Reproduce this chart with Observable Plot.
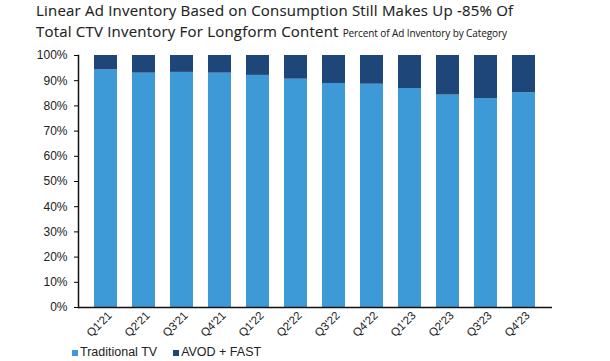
<!DOCTYPE html>
<html>
<head>
<meta charset="utf-8">
<script src="https://cdn.jsdelivr.net/npm/d3@7"></script>
<script src="https://cdn.jsdelivr.net/npm/@observablehq/plot@0.6"></script>
<style>
  body { margin: 0; background: #fff; width: 610px; height: 361px; overflow: hidden; }
  #title { height: 45px; box-sizing: border-box; padding: 0 0 0 36px; font-family: "Open Sans", sans-serif; color: #222; font-size: 15px; line-height: 20.5px; letter-spacing: 0.2px; -webkit-text-stroke: 0.12px #222; }
  #title .sub { font-size: 10px; letter-spacing: -0.1px; -webkit-text-stroke: 0.05px #222; }
  #legend { font-family: Arial, "Liberation Sans", sans-serif; font-size: 12.5px; color: #222; padding-left: 72px; margin-top: 0px; display: flex; gap: 16px; align-items: center; }
  #legend span.sw { display: inline-block; width: 6px; height: 6px; margin-right: 2px; vertical-align: middle; }
</style>
</head>
<body>
<div id="title">Linear Ad Inventory Based on Consumption Still Makes Up -85% Of<br>Total CTV Inventory For Longform Content <span class="sub">Percent of Ad Inventory by Category</span></div>
<div id="chart"></div>
<div id="legend"></div>
<script>
const quarters = ["Q1'21","Q2'21","Q3'21","Q4'21","Q1'22","Q2'22","Q3'22","Q4'22","Q1'23","Q2'23","Q3'23","Q4'23"];
const traditionalTV = [94.3, 93.0, 93.3, 93.0, 92.1, 90.6, 88.9, 88.6, 86.9, 84.3, 82.9, 85.2];
const avodFast = traditionalTV.map(v => +(100 - v).toFixed(1));
const seriesNames = ["Traditional TV", "AVOD + FAST"];
const seriesColors = ["#3d9ad6", "#1f4679"];
const yTicks = [0,10,20,30,40,50,60,70,80,90,100];

const data = [];
quarters.forEach((q, i) => {
  data.push({quarter: q, series: seriesNames[0], value: traditionalTV[i] / 100});
  data.push({quarter: q, series: seriesNames[1], value: avodFast[i] / 100});
});

const chart = Plot.plot({
  width: 610,
  height: 300,
  marginTop: 10,
  marginLeft: 78,
  marginRight: 58,
  marginBottom: 38,
  style: {fontFamily: "Arial, 'Liberation Sans', sans-serif", fontSize: "12px", color: "#222", background: "#fff"},
  x: {domain: quarters, padding: 0.39, label: null},
  y: {domain: [0, 1], label: null},
  color: {domain: seriesNames, range: seriesColors},
  marks: [
    Plot.barY(data, {x: "quarter", y: "value", fill: "series", order: seriesNames}),
    Plot.axisY(yTicks.map(d => d / 100), {tickFormat: d => Math.round(d * 100) + "%", tickSize: 4, tickPadding: 7, fontSize: 12, stroke: "#000", fill: "#222", label: null}),
    Plot.axisX({tickSize: 0, tickRotate: -45, tickPadding: 6, fontSize: 11.5, fill: "#222", label: null, dx: 4}),
    Plot.ruleY([0], {stroke: "#111", strokeWidth: 1.5}),
    Plot.frame({anchor: "left", stroke: "#111", strokeWidth: 1.5})
  ]
});
document.getElementById("chart").appendChild(chart);

const legend = document.getElementById("legend");
seriesNames.forEach((s, i) => {
  const item = document.createElement("div");
  item.innerHTML = `<span class="sw" style="background:${seriesColors[i]}"></span>${s}`;
  legend.appendChild(item);
});
</script>
</body>
</html>
